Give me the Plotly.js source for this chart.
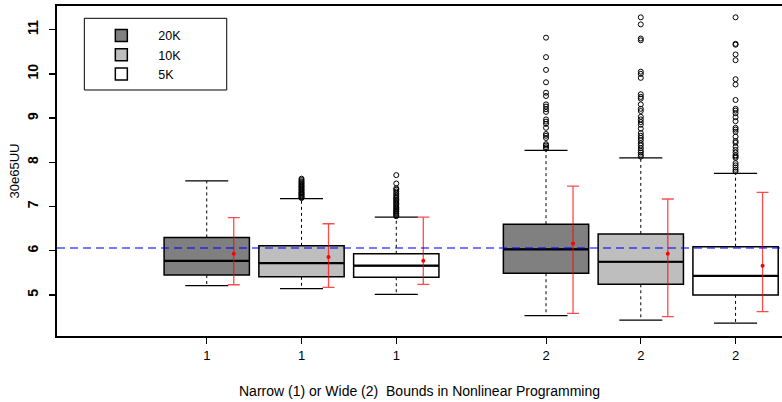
<!DOCTYPE html>
<html><head><meta charset="utf-8">
<script src="https://cdn.plot.ly/plotly-3.0.1.min.js"></script>
<style>html,body{margin:0;padding:0;background:#fff;overflow:hidden}#chart{width:782px;height:402px}</style>
</head><body><div id="chart"></div>
<script>
// ---- data ----
const groups = ['20K', '10K', '5K'];
const tickLabels = ['1', '1', '1', '2', '2', '2'];
const xPos = [1, 2, 3, 4.58, 5.58, 6.58];     // narrow 20K,10K,5K then wide 20K,10K,5K
const boxGroup = [0, 1, 2, 0, 1, 2];
const lowerWhisker = [5.21, 5.14, 5.01, 4.53, 4.43, 4.36];
const q1 = [5.45, 5.41, 5.40, 5.49, 5.24, 5.00];
const median = [5.77, 5.72, 5.66, 6.03, 5.75, 5.43];
const q3 = [6.30, 6.11, 5.93, 6.60, 6.38, 6.09];
const upperWhisker = [7.58, 7.18, 6.76, 8.27, 8.10, 7.75];
const means = [5.93, 5.86, 5.77, 6.16, 5.93, 5.66];
const errUpper = [6.75, 6.61, 6.76, 7.46, 7.17, 7.32];
const errLower = [5.23, 5.17, 5.24, 4.58, 4.51, 4.62];
const outliers = [
  [],
  [7.19, 7.21, 7.22, 7.25, 7.27, 7.29, 7.31, 7.33, 7.36, 7.38, 7.40, 7.43, 7.45, 7.47, 7.50, 7.52, 7.55, 7.57, 7.60, 7.63],
  [6.78, 6.80, 6.83, 6.85, 6.88, 6.90, 6.93, 6.95, 6.98, 7.01, 7.04, 7.07, 7.10, 7.13, 7.16, 7.19, 7.22, 7.26, 7.30, 7.34, 7.38, 7.41, 7.52, 7.71],
  [8.31, 8.34, 8.38, 8.41, 8.55, 8.60, 8.64, 8.78, 8.87, 8.92, 8.97, 9.14, 9.20, 9.26, 9.31, 9.50, 9.575, 9.81, 10.09, 10.38, 10.82],
  [8.13, 8.17, 8.22, 8.26, 8.32, 8.38, 8.43, 8.50, 8.55, 8.60, 8.66, 8.76, 8.85, 8.91, 8.97, 9.03, 9.16, 9.21, 9.31, 9.44, 9.48, 9.54, 9.91, 10.00, 10.05, 10.76, 10.80, 11.12, 11.28],
  [7.79, 7.83, 7.88, 7.93, 7.98, 8.10, 8.13, 8.16, 8.22, 8.28, 8.35, 8.44, 8.48, 8.58, 8.69, 8.74, 8.78, 8.93, 9.02, 9.11, 9.17, 9.21, 9.41, 9.76, 9.88, 10.31, 10.44, 10.66, 10.68, 11.28]
];
const refLine = 6.06;
const yTicks = [5, 6, 7, 8, 9, 10, 11];

// ---- styles ----
const fills = ['#808080', '#bebebe', '#ffffff'];
const boxWidth = 0.9, capHalf = 0.227, errOffset = 0.285;
const font = 'Liberation Sans, Arial, Helvetica, sans-serif';

const traces = [];
groups.forEach((g, gi) => {
  const idx = xPos.map((_, i) => i).filter(i => boxGroup[i] === gi);
  traces.push({
    type: 'box', name: g, x: idx.map(i => xPos[i]),
    q1: idx.map(i => q1[i]), median: idx.map(i => median[i]), q3: idx.map(i => q3[i]),
    lowerfence: idx.map(i => q1[i]), upperfence: idx.map(i => q3[i]),
    boxpoints: false, width: boxWidth, whiskerwidth: 0,
    fillcolor: fills[gi], line: {color: '#000', width: 1.5},
    hoverinfo: 'skip', showlegend: true
  });
});
// dashed whiskers
const wx = [], wy = [];
xPos.forEach((x, i) => { wx.push(x, x, null, x, x, null); wy.push(q3[i], upperWhisker[i], null, q1[i], lowerWhisker[i], null); });
traces.push({type: 'scatter', mode: 'lines', x: wx, y: wy, line: {color: '#000', width: 1, dash: '3px,3px'}, showlegend: false, hoverinfo: 'skip'});
// whisker caps
const cx = [], cy = [];
xPos.forEach((x, i) => { cx.push(x - capHalf, x + capHalf, null, x - capHalf, x + capHalf, null); cy.push(upperWhisker[i], upperWhisker[i], null, lowerWhisker[i], lowerWhisker[i], null); });
traces.push({type: 'scatter', mode: 'lines', x: cx, y: cy, line: {color: '#000', width: 1.3}, showlegend: false, hoverinfo: 'skip'});
// thicker medians
const mx = [], my = [];
xPos.forEach((x, i) => { mx.push(x - boxWidth / 2, x + boxWidth / 2, null); my.push(median[i], median[i], null); });
traces.push({type: 'scatter', mode: 'lines', x: mx, y: my, line: {color: '#000', width: 2.2}, showlegend: false, hoverinfo: 'skip'});
// outliers
const ox = [], oy = [];
outliers.forEach((arr, i) => arr.forEach(v => { ox.push(xPos[i]); oy.push(v); }));
traces.push({type: 'scatter', mode: 'markers', x: ox, y: oy, marker: {symbol: 'circle-open', size: 5, color: '#000', line: {width: 1}}, showlegend: false, hoverinfo: 'skip'});
// mean +- error
traces.push({
  type: 'scatter', mode: 'markers', x: xPos.map(x => x + errOffset), y: means,
  marker: {color: '#ff0000', size: 4},
  error_y: {type: 'data', symmetric: false, array: errUpper.map((v, i) => v - means[i]), arrayminus: means.map((m, i) => m - errLower[i]), color: 'rgba(255,0,0,0.7)', thickness: 1.3, width: 6},
  showlegend: false, hoverinfo: 'skip'
});

const layout = {
  width: 782, height: 402,
  margin: {l: 57, r: 0, t: 6, b: 66},
  paper_bgcolor: '#fff', plot_bgcolor: '#fff',
  font: {family: font, color: '#000', size: 13},
  showlegend: true,
  boxmode: 'overlay',
  legend: {x: 0.0377, y: 0.955, xanchor: 'left', yanchor: 'top', borderwidth: 0, bgcolor: 'rgba(0,0,0,0)', font: {size: 12.5, color: '#000'}, itemwidth: 64, traceorder: 'normal', tracegroupgap: 0},
  xaxis: {
    range: [-0.58, 7.07], tickvals: xPos, ticktext: tickLabels,
    showgrid: false, zeroline: false, showline: true, linecolor: '#000', linewidth: 2, mirror: true,
    ticks: 'outside', ticklen: 6, tickwidth: 1, tickcolor: '#000',
    tickfont: {size: 13, color: '#000'},
    title: {text: 'Narrow (1) or Wide (2)\u00a0 Bounds in Nonlinear Programming', font: {size: 14, color: '#000'}, standoff: 25}
  },
  yaxis: {
    range: [4.07, 11.536], tickvals: yTicks, ticktext: yTicks.map(String),
    showgrid: false, zeroline: false, showline: true, linecolor: '#000', linewidth: 2,
    ticks: 'outside', ticklen: 6, tickwidth: 1.5, tickcolor: '#000', tickangle: -90,
    ticklabelstandoff: 5,
    tickfont: {size: 14, weight: 'bold', color: '#000'},
    title: {text: '30e65UU', font: {size: 13, color: '#000'}, standoff: 3}
  },
  shapes: [
    {type: 'line', xref: 'paper', x0: 0, x1: 1, yref: 'y', y0: refLine, y1: refLine, line: {color: 'rgba(0,0,255,0.7)', width: 1.5, dash: '8px,5px'}, layer: 'above'},
    {type: 'rect', xref: 'paper', yref: 'paper', x0: 0.0377, x1: 0.2341, y0: 0.7455, y1: 0.9627, line: {color: '#000', width: 1}, fillcolor: 'rgba(0,0,0,0)', layer: 'above'}
  ]
};
Plotly.newPlot('chart', traces, layout, {displayModeBar: false, staticPlot: true});
</script></body></html>
